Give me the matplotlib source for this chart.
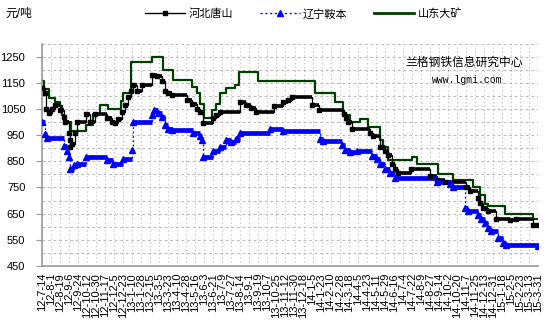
import matplotlib
matplotlib.use('Agg')
import matplotlib.pyplot as plt
from matplotlib.lines import Line2D

plt.rcParams['font.family'] = ['Liberation Sans', 'Noto Sans CJK SC', 'DejaVu Sans']

unit = '元/吨'
series_names = ['河北唐山', '辽宁鞍本', '山东大矿']
source = '兰格钢铁信息研究中心'
site = 'www.lgmi.com'

# one label every 18 days, starting 2012-7-14
date_labels = [
    '12-7-14', '12-8-1', '12-8-19', '12-9-6', '12-9-24', '12-10-12', '12-10-30',
    '12-11-17', '12-12-5', '12-12-23',
    '13-1-10', '13-1-28', '13-2-15', '13-3-5', '13-3-23', '13-4-10', '13-4-28',
    '13-5-16', '13-6-3', '13-6-21', '13-7-9', '13-7-27', '13-8-14', '13-9-1',
    '13-9-19', '13-10-7', '13-10-25', '13-11-12', '13-11-30', '13-12-18',
    '14-1-5', '14-1-23', '14-2-10', '14-2-28', '14-3-18', '14-4-5', '14-4-23',
    '14-5-11', '14-5-29', '14-6-16', '14-7-4', '14-7-22', '14-8-9', '14-8-27',
    '14-9-14', '14-10-2', '14-10-20', '14-11-7', '14-11-25', '14-12-13', '14-12-31',
    '15-1-18', '15-2-5', '15-2-23', '15-3-13', '15-3-31',
]

# price changes: day offset from 2012-7-14 and price from that day on
tangshan_day = [0, 5, 8, 13, 19, 26, 36, 43, 46, 53, 55, 56, 59, 66, 69, 88, 96, 106,
                129, 139, 146, 152, 159, 166, 172, 177, 182, 189, 199, 219, 229, 239,
                245, 252, 259, 289, 299, 309, 315, 322, 342, 348, 355, 396, 408, 418,
                428, 463, 482, 492, 498, 538, 553, 603, 607, 611, 618, 655, 661, 674,
                684, 691, 698, 704, 711, 736, 774, 788, 804, 847, 854, 871, 874, 881,
                891, 907, 934, 947, 980, 990]
tangshan_price = [1130, 1110, 1050, 1035, 1050, 1065, 1045, 1020, 1000, 960, 930, 905,
                  915, 960, 1000, 1030, 1000, 1030, 1015, 1000, 995, 1010, 1040, 1065,
                  1095, 1120, 1140, 1120, 1140, 1180, 1175, 1155, 1120, 1110, 1105, 1085,
                  1070, 1050, 1040, 995, 1015, 1025, 1040, 1075, 1065, 1055, 1040, 1060,
                  1075, 1085, 1095, 1065, 1045, 1030, 1015, 1000, 975, 960, 945, 905,
                  890, 875, 840, 820, 805, 820, 795, 780, 770, 750, 735, 710, 690, 670,
                  660, 630, 625, 630, 605, 605]

anben_day = [0, 6, 9, 43, 49, 53, 55, 63, 69, 88, 129, 142, 161, 179, 182, 219, 223,
             232, 239, 245, 252, 259, 302, 315, 319, 322, 342, 355, 368, 378, 388, 395,
             455, 482, 555, 561, 598, 605, 615, 628, 658, 668, 674, 684, 694, 704, 788,
             814, 821, 844, 851, 871, 877, 884, 891, 897, 911, 921, 927, 990]
anben_price = [1000, 955, 940, 910, 890, 865, 820, 835, 840, 865, 855, 840, 860, 895,
               1000, 1025, 1045, 1035, 1020, 990, 975, 968, 958, 945, 930, 868, 890, 905,
               930, 923, 935, 958, 975, 965, 935, 927, 914, 895, 885, 888, 872, 860, 840,
               820, 805, 785, 770, 763, 753, 670, 662, 646, 630, 614, 595, 582, 556, 537,
               530, 528]

dakuang_day = [0, 3, 13, 26, 36, 39, 43, 57, 88, 102, 116, 132, 157, 162, 177, 219, 242,
               262, 299, 309, 315, 323, 339, 348, 355, 368, 385, 394, 432, 545, 585, 601,
               615, 635, 651, 674, 681, 691, 738, 748, 791, 821, 861, 874, 884, 891, 924,
               980, 990]
dakuang_price = [1155, 1125, 1090, 1075, 1060, 1025, 1000, 965, 990, 1030, 1065, 1050,
                 1080, 1110, 1230, 1250, 1200, 1160, 1135, 1110, 1070, 1015, 1045, 1070,
                 1110, 1130, 1140, 1190, 1155, 1110, 1075, 1025, 1000, 1010, 980, 930, 905,
                 855, 865, 840, 800, 780, 750, 720, 685, 680, 650, 630, 630]

GREEN = '#003f00'


def draw_band(ax, days, prices, color, lw, marker, ms, thin_ls):
    # thin connector for the jumps, thick runs where the price holds
    ax.step(days, prices, where='post', color=color, lw=0.9, ls=thin_ls, zorder=3)
    ax.hlines(prices[:-1], days[:-1], days[1:], colors=color, lw=lw, zorder=3)
    ax.plot(days, prices, ls='none', marker=marker, ms=ms, color=color, zorder=4)


fig = plt.figure(figsize=(5.53, 3.32), dpi=100)
ax = fig.add_axes([42 / 553, 1 - 266 / 332, 496 / 553, 222.5 / 332])

ax.step(dakuang_day, dakuang_price, where='post', color=GREEN, lw=1.6, zorder=2)
draw_band(ax, tangshan_day, tangshan_price, 'black', 2.6, 's', 3.2, '-')
draw_band(ax, anben_day, anben_price, '#0000ff', 3.4, '^', 4.5, (0, (1.5, 2)))

ax.set_xlim(0, 18 * (len(date_labels) - 1))
ax.set_ylim(450, 1300)
ax.set_xticks([18 * i for i in range(len(date_labels))])
ax.set_xticklabels(date_labels, rotation=90, fontsize=8, va='top')
ax.set_yticks(range(450, 1251, 100))
ax.set_yticks(range(500, 1301, 100), minor=True)
ax.tick_params(axis='y', which='major', labelsize=8, length=4, color='#999999', pad=8)
ax.tick_params(axis='y', which='minor', length=0)
ax.tick_params(axis='x', length=0, pad=5)

ax.set_axisbelow(True)
ax.grid(axis='x', ls=(0, (1, 2.5)), color='#bbbbbb', lw=0.8)
ax.grid(axis='y', which='both', ls=(0, (2.5, 2.5)), color='#bbbbbb', lw=0.8)
for s in ['top', 'right']:
    ax.spines[s].set_visible(False)
for s in ['left', 'bottom']:
    ax.spines[s].set_color('#999999')
    ax.spines[s].set_linewidth(1.2)

ax.text(0.851, 0.917, source, transform=ax.transAxes, ha='center', va='center',
        fontsize=8.5, family=['Noto Sans CJK SC'])
ax.text(0.857, 0.836, site, transform=ax.transAxes, ha='center', va='center',
        fontsize=7, family=['Liberation Mono'])

fig.text(5 / 553, 1 - 14 / 332, unit, ha='left', va='center', fontsize=8.5)

handles = [
    Line2D([], [], color='black', lw=1, marker='s', ms=3),
    Line2D([], [], color='#0000ff', lw=1, ls=(0, (1.5, 2)), marker='^', ms=4),
    Line2D([], [], color=GREEN, lw=2),
]
fig.legend(handles, series_names, loc='center left', bbox_to_anchor=(145 / 553, 1 - 14 / 332),
           ncol=3, frameon=False, fontsize=8, handlelength=3.6, handletextpad=0.3,
           columnspacing=2.4, borderpad=0, borderaxespad=0, numpoints=1)

fig.savefig('out.png', dpi=100)
